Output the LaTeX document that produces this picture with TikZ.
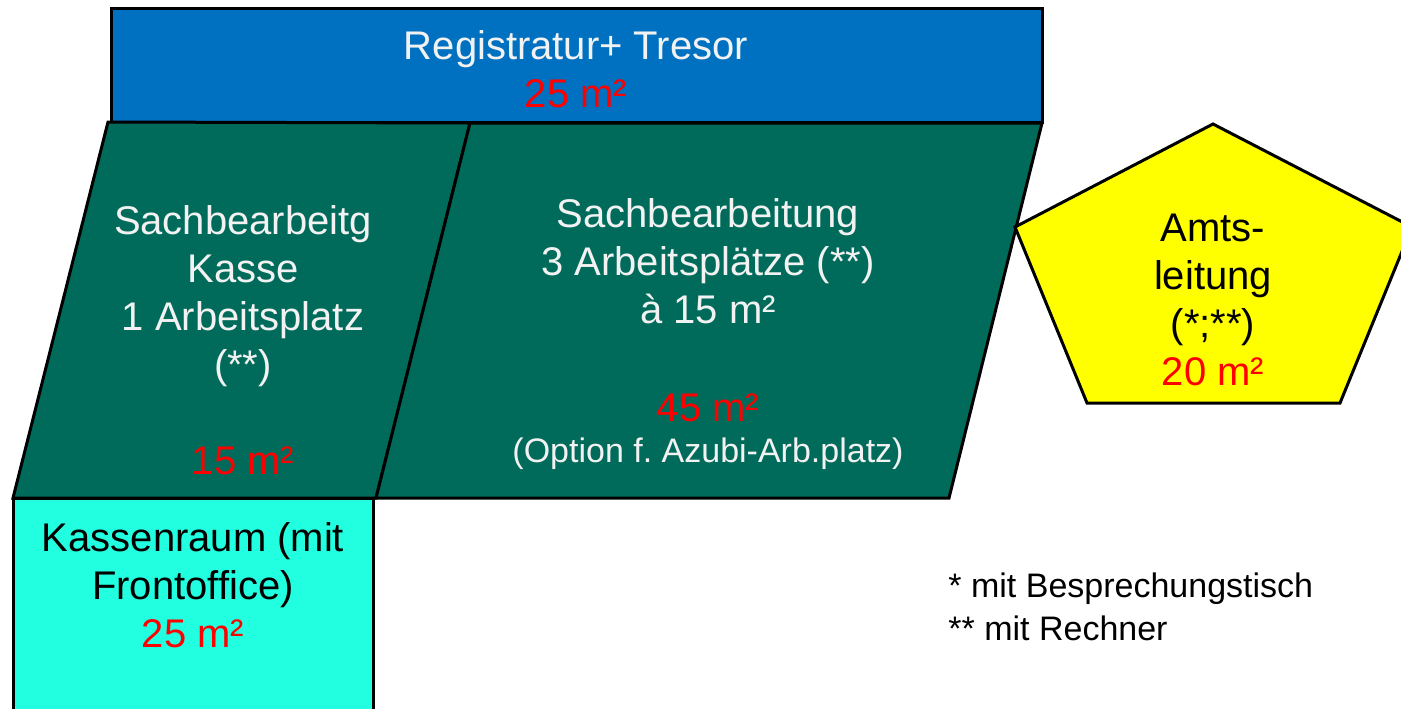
\documentclass[tikz,border=0pt]{standalone}
\usepackage{fontspec}
\setmainfont{Liberation Sans}
\frenchspacing
\definecolor{regblue}{HTML}{0070C0}
\definecolor{sachgreen}{HTML}{006B5A}
\definecolor{kassecyan}{HTML}{22FFE0}
\definecolor{amtyellow}{HTML}{FFFF00}
\definecolor{qmred}{HTML}{FF0000}
\definecolor{offwhite}{HTML}{F2F2F2}
\newcommand{\kleinschrift}{\fontsize{17}{21.5}\selectfont}
\tikzset{
  room/.style={draw=black, line width=1.5pt, line join=miter},
  roomtext/.style={align=center, inner sep=0pt, font=\fontsize{20}{24}\selectfont},
  smalltext/.style={font=\kleinschrift}
}
\newcommand{\qm}[1]{\textcolor{qmred}{#1 m²}}
\begin{document}
\begin{tikzpicture}[x=0.5pt,y=-0.5pt]
\useasboundingbox (0,0) rectangle (1401,708);
\coordinate (regtl) at (111,8);
\coordinate (regbr) at (1042,122);
\coordinate (sachtl) at (108,122);
\coordinate (sachtm) at (470,123);
\coordinate (sachtr) at (1042,123);
\coordinate (sachbl) at (13,498);
\coordinate (sachbm) at (376,498);
\coordinate (sachbr) at (949,498);
\filldraw[room, fill=regblue] (regtl) rectangle (regbr);
\filldraw[room, fill=sachgreen] (sachtl) -- (sachtm) -- (sachbm) -- (sachbl) -- cycle;
\filldraw[room, fill=sachgreen] (sachtm) -- (sachtr) -- (sachbr) -- (sachbm) -- cycle;
\filldraw[room, fill=amtyellow] (1213,124) -- (1412,227) -- (1340,403) -- (1087,403) -- (1015,227) -- cycle;
\filldraw[room, fill=kassecyan] (13,498) rectangle (373,720);
\node[roomtext, text=offwhite] (reg) at (576,69) {Registratur+ Tresor\\\qm{25}};
\node[roomtext, text=offwhite] (kasse) at (243,340) {Sachbearbeitg\\Kasse\\1 Arbeitsplatz\\(**)\\[24pt]\qm{15}};
\node[roomtext, text=offwhite] (sach) at (708,334) {Sachbearbeitung\\3 Arbeitsplätze (**)\\à 15 m²\\[25pt]\qm{45}\\[-3.5pt]{\kleinschrift(Option f. Azubi-Arb.platz)}};
\node[roomtext] (amt) at (1213,300) {Amts-\\leitung\\(*;**)\\\qm{20}};
\node[roomtext] (kraum) at (193,585) {Kassenraum (mit\\Frontoffice)\\\qm{25}};
\node[roomtext, smalltext, align=left, anchor=west] (legende) at (948,607) {* mit Besprechungstisch\\** mit Rechner};
\end{tikzpicture}
\end{document}
